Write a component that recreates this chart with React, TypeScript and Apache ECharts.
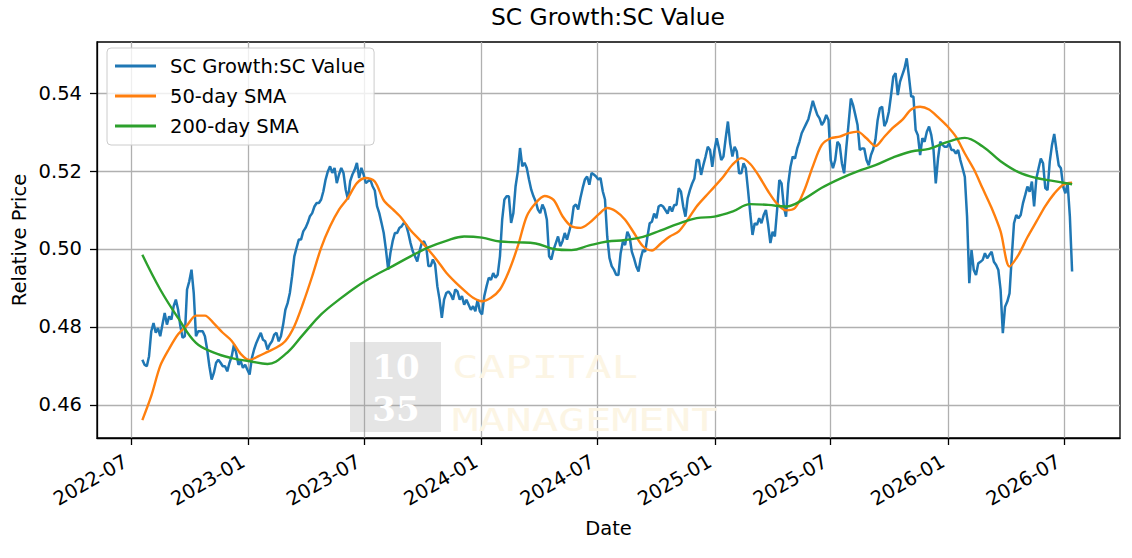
import { useEffect, useRef } from "react";
import * as echarts from "echarts";

const DAY = 24 * 3600 * 1000;
// first plotted session, the series below are sampled from here on
const START = Date.UTC(2022, 6, 19);

const TITLE = "SC Growth:SC Value";
const seriesNames = ["SC Growth:SC Value", "50-day SMA", "200-day SMA"];
const colors = ["#1f77b4", "#ff7f0e", "#2ca02c"];

const xTicks = ["2022-07", "2023-01", "2023-07", "2024-01", "2024-07", "2025-01", "2025-07", "2026-01", "2026-07"];
const yTicks = [0.46, 0.48, 0.5, 0.52, 0.54];

// ratio, read twice a week (every 3.5 days)
const ratio = [
	0.4716, 0.4703, 0.4699, 0.4725, 0.4789, 0.4810, 0.4785, 0.4797, 0.4776, 0.4806,
	0.4836, 0.4806, 0.4827, 0.4819, 0.4853, 0.4870, 0.4844, 0.4802, 0.4772, 0.4776,
	0.4896, 0.4917, 0.4947, 0.4887, 0.4776, 0.4789, 0.4789, 0.4789, 0.4776, 0.4742,
	0.4699, 0.4665, 0.4682, 0.4708, 0.4716, 0.4708, 0.4699, 0.4699, 0.4686, 0.4708,
	0.4725, 0.4755, 0.4733, 0.4703, 0.4712, 0.4695, 0.4703, 0.4690, 0.4678, 0.4720,
	0.4742, 0.4759, 0.4772, 0.4785, 0.4767, 0.4763, 0.4742, 0.4755, 0.4763, 0.4780,
	0.4785, 0.4763, 0.4776, 0.4806, 0.4844, 0.4861, 0.4887, 0.4930, 0.4981, 0.5003,
	0.5024, 0.5024, 0.5045, 0.5054, 0.5067, 0.5084, 0.5092, 0.5109, 0.5118, 0.5118,
	0.5127, 0.5148, 0.5178, 0.5199, 0.5212, 0.5195, 0.5208, 0.5169, 0.5191, 0.5208,
	0.5195, 0.5152, 0.5127, 0.5174, 0.5191, 0.5203, 0.5221, 0.5182, 0.5208, 0.5191,
	0.5169, 0.5174, 0.5178, 0.5161, 0.5150, 0.5110, 0.5092, 0.5067, 0.5041, 0.4998,
	0.4947, 0.4990, 0.5020, 0.5041, 0.5041, 0.5054, 0.5058, 0.5067, 0.5062, 0.5041,
	0.5015, 0.4994, 0.4981, 0.4968, 0.4994, 0.5015, 0.5020, 0.5007, 0.4956, 0.4956,
	0.4973, 0.4960, 0.4904, 0.4870, 0.4823, 0.4870, 0.4887, 0.4891, 0.4883, 0.4870,
	0.4896, 0.4891, 0.4870, 0.4879, 0.4857, 0.4870, 0.4857, 0.4844, 0.4853, 0.4840,
	0.4870, 0.4840, 0.4832, 0.4879, 0.4904, 0.4926, 0.4921, 0.4938, 0.4926, 0.4934,
	0.4981, 0.5075, 0.5127, 0.5135, 0.5135, 0.5067, 0.5092, 0.5161, 0.5199, 0.5259,
	0.5212, 0.5221, 0.5208, 0.5178, 0.5152, 0.5135, 0.5122, 0.5101, 0.5092, 0.5114,
	0.5101, 0.5075, 0.4981, 0.4973, 0.4998, 0.5015, 0.5032, 0.5007, 0.5020, 0.5041,
	0.5024, 0.5045, 0.5067, 0.5109, 0.5114, 0.5101, 0.5131, 0.5156, 0.5178, 0.5186,
	0.5165, 0.5195, 0.5191, 0.5186, 0.5178, 0.5182, 0.5148, 0.5127, 0.5032, 0.4977,
	0.4956, 0.4947, 0.4934, 0.4933, 0.4989, 0.5019, 0.5010, 0.5044, 0.5032, 0.4993,
	0.4976, 0.4955, 0.4942, 0.4976, 0.4997, 0.4993, 0.5032, 0.5066, 0.5070, 0.5091,
	0.5079, 0.5109, 0.5113, 0.5109, 0.5100, 0.5091, 0.5109, 0.5096, 0.5113, 0.5113,
	0.5156, 0.5147, 0.5109, 0.5083, 0.5130, 0.5151, 0.5168, 0.5181, 0.5228, 0.5228,
	0.5190, 0.5215, 0.5237, 0.5262, 0.5254, 0.5211, 0.5254, 0.5284, 0.5258, 0.5228,
	0.5237, 0.5284, 0.5327, 0.5271, 0.5237, 0.5262, 0.5250, 0.5194, 0.5194, 0.5220,
	0.5207, 0.5151, 0.5091, 0.5036, 0.5066, 0.5062, 0.5079, 0.5066, 0.5087, 0.5100,
	0.5062, 0.5015, 0.5044, 0.5032, 0.5100, 0.5177, 0.5168, 0.5109, 0.5083, 0.5168,
	0.5211, 0.5237, 0.5232, 0.5258, 0.5275, 0.5297, 0.5309, 0.5321, 0.5333, 0.5356,
	0.5380, 0.5361, 0.5344, 0.5335, 0.5318, 0.5327, 0.5344, 0.5331, 0.5228, 0.5207,
	0.5228, 0.5275, 0.5267, 0.5220, 0.5194, 0.5262, 0.5322, 0.5386, 0.5369, 0.5344,
	0.5318, 0.5254, 0.5258, 0.5258, 0.5228, 0.5215, 0.5241, 0.5256, 0.5280, 0.5331,
	0.5361, 0.5365, 0.5315, 0.5327, 0.5352, 0.5395, 0.5442, 0.5451, 0.5395, 0.5429,
	0.5446, 0.5463, 0.5489, 0.5442, 0.5391, 0.5391, 0.5305, 0.5292, 0.5241, 0.5284,
	0.5275, 0.5301, 0.5314, 0.5292, 0.5254, 0.5168, 0.5232, 0.5275, 0.5267, 0.5262,
	0.5262, 0.5271, 0.5254, 0.5254, 0.5245, 0.5254, 0.5228, 0.5207, 0.5185, 0.5083,
	0.4912, 0.4997, 0.4946, 0.4933, 0.4963, 0.4967, 0.4972, 0.4989, 0.4976, 0.4985,
	0.4993, 0.4967, 0.4959, 0.4946, 0.4895, 0.4784, 0.4852, 0.4865, 0.4886, 0.4980,
	0.5066, 0.5087, 0.5079, 0.5087, 0.5117, 0.5138, 0.5160, 0.5147, 0.5173, 0.5109,
	0.5181, 0.5207, 0.5232, 0.5220, 0.5156, 0.5151, 0.5224, 0.5267, 0.5295, 0.5254,
	0.5215, 0.5207, 0.5160, 0.5143, 0.5168, 0.5083, 0.4942,
];

// 50-day SMA, every two weeks
const sma50 = [
	0.4561, 0.4623, 0.4700, 0.4744, 0.4781, 0.4804, 0.4829, 0.4829, 0.4809, 0.4785,
	0.4764, 0.4731, 0.4715, 0.4725, 0.4736, 0.4747, 0.4764, 0.4802, 0.4862, 0.4930,
	0.5003, 0.5058, 0.5101, 0.5131, 0.5169, 0.5182, 0.5173, 0.5125, 0.5102, 0.5079,
	0.5048, 0.5024, 0.4998, 0.4970, 0.4939, 0.4915, 0.4894, 0.4875, 0.4866, 0.4875,
	0.4896, 0.4943, 0.5007, 0.5084, 0.5118, 0.5136, 0.5126, 0.5084, 0.5058, 0.5054,
	0.5067, 0.5088, 0.5105, 0.5096, 0.5075, 0.5041, 0.5007, 0.4996, 0.5014, 0.5032,
	0.5045, 0.5075, 0.5109, 0.5135, 0.5160, 0.5186, 0.5216, 0.5233, 0.5218, 0.5186,
	0.5148, 0.5116, 0.5099, 0.5105, 0.5148, 0.5212, 0.5267, 0.5284, 0.5288, 0.5297,
	0.5301, 0.5284, 0.5264, 0.5288, 0.5312, 0.5331, 0.5358, 0.5365, 0.5358, 0.5338,
	0.5316, 0.5288, 0.5245, 0.5205, 0.5155, 0.5105, 0.5045, 0.4955, 0.4985, 0.5030,
	0.5070, 0.5110, 0.5142, 0.5165, 0.5170,
];

// 200-day SMA, every four weeks
const sma200 = [
	0.4985, 0.4896, 0.4823, 0.4759, 0.4734, 0.4720, 0.4712, 0.4705, 0.4730, 0.4781,
	0.4832, 0.4870, 0.4904, 0.4932, 0.4956, 0.4981, 0.5004, 0.5021, 0.5032, 0.5029,
	0.5019, 0.5017, 0.5014, 0.5000, 0.4997, 0.5009, 0.5019, 0.5023, 0.5031, 0.5048,
	0.5065, 0.5079, 0.5083, 0.5096, 0.5115, 0.5113, 0.5109, 0.5128, 0.5157, 0.5180,
	0.5199, 0.5215, 0.5235, 0.5250, 0.5257, 0.5274, 0.5285, 0.5263, 0.5225, 0.5197,
	0.5182, 0.5174, 0.5166,
];

const FONT = "DejaVu Sans";

const toPairs = (values: number[], stepDays: number) =>
	values.map((v, i) => [START + i * stepDays * DAY, v]);

const monthStamp = (s: string) => {
	const [y, m] = s.split("-").map(Number);
	return Date.UTC(y, m - 1, 1);
};

const App = () => {
	const chartRef = useRef<HTMLDivElement>(null);

	useEffect(() => {
		if (!chartRef.current) return;
		const chart = echarts.init(chartRef.current, null, { renderer: "svg" });

		const tickStamps = xTicks.map(monthStamp);

		const option = {
			animation: false,
			backgroundColor: "#ffffff",
			textStyle: { fontFamily: FONT },
			title: {
				text: TITLE,
				left: 608,
				top: 5,
				textAlign: "center",
				padding: 0,
				textStyle: { fontFamily: FONT, fontSize: 23.4, fontWeight: "normal", color: "#000" },
			},
			legend: {
				orient: "vertical",
				left: 107,
				top: 48,
				padding: [8, 9, 9, 8],
				itemGap: 10,
				itemWidth: 41,
				itemHeight: 3,
				icon: "rect",
				backgroundColor: "rgba(255,255,255,0.8)",
				borderColor: "#cccccc",
				borderWidth: 1,
				borderRadius: 4,
				textStyle: { fontFamily: FONT, fontSize: 19.5, lineHeight: 20, color: "#000", padding: [0, 0, 0, 9] },
				data: seriesNames,
			},
			grid: {
				left: 97,
				right: 12,
				top: 42,
				bottom: 120,
				show: true,
				borderColor: "#000",
				borderWidth: 1.3,
				backgroundColor: "transparent",
				containLabel: false,
				outerBoundsMode: "none",
			},
			xAxis: {
				type: "value",
				min: Date.UTC(2022, 4, 9),
				max: Date.UTC(2026, 8, 27),
				scale: true,
				name: "Date",
				nameLocation: "middle",
				nameGap: 80,
				nameMoveOverlap: false,
				nameTextStyle: { fontFamily: FONT, fontSize: 19.5, color: "#000" },
				axisLine: { show: true, onZero: false, lineStyle: { color: "#000", width: 1.3 } },
				axisTick: { show: true, length: 7, customValues: tickStamps, lineStyle: { color: "#000", width: 1.3 } },
				axisLabel: {
					customValues: tickStamps,
					rotate: 30,
					margin: 19,
					padding: [0, 6, 0, 0],
					fontFamily: FONT,
					fontSize: 19.5,
					color: "#000",
					formatter: (v: number) => {
						const d = new Date(v);
						return `${d.getUTCFullYear()}-${String(d.getUTCMonth() + 1).padStart(2, "0")}`;
					},
				},
				splitLine: { show: true, lineStyle: { color: "#b0b0b0", width: 1.3 } },
			},
			yAxis: {
				type: "value",
				min: 0.4515,
				max: 0.5531,
				name: "Relative Price",
				nameLocation: "middle",
				nameGap: 68,
				nameMoveOverlap: false,
				nameTextStyle: { fontFamily: FONT, fontSize: 19.5, color: "#000" },
				axisLine: { show: true, lineStyle: { color: "#000", width: 1.3 } },
				axisTick: { show: true, length: 7, customValues: yTicks, lineStyle: { color: "#000", width: 1.3 } },
				axisLabel: {
					customValues: yTicks,
					margin: 15,
					fontFamily: FONT,
					fontSize: 19.5,
					color: "#000",
					formatter: (v: number) => v.toFixed(2),
				},
				splitLine: { show: true, lineStyle: { color: "#b0b0b0", width: 1.3 } },
			},
			// faint 1035 Capital Management watermark
			graphic: [
				{
					type: "rect",
					z: 1,
					shape: { x: 350, y: 342, width: 91, height: 90 },
					style: { fill: "rgba(150,150,150,0.25)" },
				},
				{
					type: "text",
					z: 1,
					x: 396,
					y: 367,
					style: { text: "10", fill: "#ffffff", font: 'bold 34px "DejaVu Serif"', align: "center", verticalAlign: "middle" },
				},
				{
					type: "text",
					z: 1,
					x: 396,
					y: 409,
					style: { text: "35", fill: "#ffffff", font: 'bold 34px "DejaVu Serif"', align: "center", verticalAlign: "middle" },
				},
				{
					type: "text",
					z: 1,
					x: 452,
					y: 367,
					scaleX: 1.38,
					style: { text: "CAPITAL", fill: "#fcf5e4", font: '32px "DejaVu Sans Mono"', align: "left", verticalAlign: "middle" },
				},
				{
					type: "text",
					z: 1,
					x: 452,
					y: 420,
					scaleX: 1.38,
					style: { text: "MANAGEMENT", fill: "#fcf5e4", font: '32px "DejaVu Sans Mono"', align: "left", verticalAlign: "middle" },
				},
			],
			series: [
				{
					name: seriesNames[0],
					type: "line",
					data: toPairs(ratio, 3.5),
					showSymbol: false,
					color: colors[0],
					lineStyle: { width: 2.5, color: colors[0] },
				},
				{
					name: seriesNames[1],
					type: "line",
					data: toPairs(sma50, 14),
					showSymbol: false,
					smooth: 0.3,
					color: colors[1],
					lineStyle: { width: 2.4, color: colors[1] },
				},
				{
					name: seriesNames[2],
					type: "line",
					data: toPairs(sma200, 28),
					showSymbol: false,
					smooth: 0.4,
					color: colors[2],
					lineStyle: { width: 2.4, color: colors[2] },
				},
			],
		};

		chart.setOption(option);

		return () => {
			chart.dispose();
		};
	}, []);

	return <div ref={chartRef} style={{ position: "absolute", left: 0, top: 0, width: 1132, height: 558 }} />;
};

export default App;
